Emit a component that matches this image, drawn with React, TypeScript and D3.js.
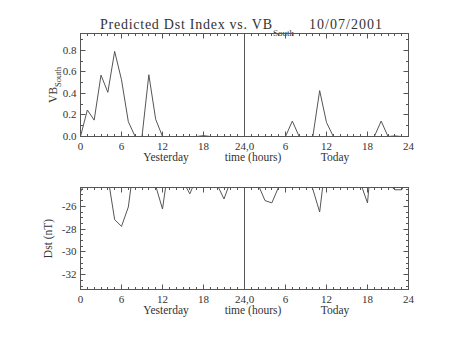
import React from "react";
import * as d3 from "d3";

const hours = [0,1,2,3,4,5,6,7,8,9,10,11,12,13,14,15,16,17,18,19,20,21,22,23,24,25,26,27,28,29,30,31,32,33,34,35,36,37,38,39,40,41,42,43,44,45,46,47,48];
const vbSouth = [0,0.246,0.152,0.57,0.41,0.79,0.526,0.137,0,0,0.573,0.16,0,0,0,0,0,0,0.008,0,0,0,0,0,0,0,0,0,0,0,0,0.143,0,0,0,0.426,0.13,0,0,0,0,0,0,0,0.143,0,0.005,0,0];
const dst = [-24.74,-23.5,-23.5,-23.5,-23.4,-27.17,-27.76,-26.06,-21.5,-23,-23,-24.2,-26.24,-22,-23,-23.8,-24.9,-23.5,-23.5,-23.5,-24.1,-25.36,-23.7,-23.5,-23.5,-23.5,-24.1,-25.5,-25.7,-24.3,-23.5,-23.5,-23.5,-23.5,-24.5,-26.5,-21.5,-23.5,-23.5,-23.5,-23.5,-24.0,-25.7,-19,-23.5,-24.0,-24.55,-24.55,-23.5];

const xMajor = [0,6,12,18,24,30,36,42,48];
const xLabels = ["0","6","12","18","24,0","6","12","18","24"];
const vbMajor = [0,0.2,0.4,0.6,0.8];
const vbLabels = ["0.0","0.2","0.4","0.6","0.8"];
const vbMinor = [0.1,0.3,0.5,0.7,0.9];
const dstMajor = [-26,-28,-30,-32];
const dstLabels = ["-26","-28","-30","-32"];
const dstMinor = [-24.5,-25,-25.5,-26.5,-27,-27.5,-28.5,-29,-29.5,-30.5,-31,-31.5,-32.5,-33];

const W = 454, H = 341;
const X0 = 80.5, X1 = 408.5;
const FONT = "'Liberation Serif', 'DejaVu Serif', serif";
const INK = "#333";
const LINE = "#555";

type PanelProps = {
  top: number; bottom: number; domain: [number, number];
  values: number[]; major: number[]; labels: string[]; minor: number[];
  ylabel: React.ReactNode; clipId: string;
};

function Panel({ top, bottom, domain, values, major, labels, minor, ylabel, clipId }: PanelProps) {
  const x = d3.scaleLinear().domain([0, 48]).range([X0, X1]);
  const y = d3.scaleLinear().domain(domain).range([bottom, top]);
  const line = d3.line<number>().x((_, i) => x(hours[i])).y(d => y(d));
  const MJ = 5, MN = 2.5;
  return (
    <g>
      <defs>
        <clipPath id={clipId}>
          <rect x={X0} y={top} width={X1 - X0} height={bottom - top} />
        </clipPath>
      </defs>
      <rect x={X0} y={top} width={X1 - X0} height={bottom - top} fill="none" stroke={LINE} strokeWidth={1} />
      {hours.map(h => {
        const isMajor = xMajor.includes(h);
        const len = isMajor ? MJ : MN;
        const px = Math.round(x(h) - 0.5) + 0.5;
        return (
          <g key={"xt" + h}>
            <line x1={px} x2={px} y1={bottom} y2={bottom - len} stroke={LINE} />
            <line x1={px} x2={px} y1={top} y2={top + len} stroke={LINE} />
          </g>
        );
      })}
      {major.concat(minor).map(v => {
        const len = major.includes(v) ? MJ : MN;
        const py = Math.round(y(v) - 0.5) + 0.5;
        return (
          <g key={"yt" + v}>
            <line x1={X0} x2={X0 + len} y1={py} y2={py} stroke={LINE} />
            <line x1={X1} x2={X1 - len} y1={py} y2={py} stroke={LINE} />
          </g>
        );
      })}
      <line x1={Math.round(x(24) - 0.5) + 0.5} x2={Math.round(x(24) - 0.5) + 0.5} y1={top} y2={bottom} stroke={LINE} />
      <path d={line(values) || ""} fill="none" stroke={LINE} strokeWidth={1} clipPath={`url(#${clipId})`} />
      {major.map((v, i) => (
        <text key={"yl" + v} x={X0 - 4} y={y(v) + 3.5} textAnchor="end" fontSize={11} fontFamily={FONT} fill={INK}>{labels[i]}</text>
      ))}
      {xMajor.map((h, i) => (
        <text key={"xl" + h} x={x(h)} y={bottom + 13} textAnchor="middle" fontSize={11} fontFamily={FONT} fill={INK}>{xLabels[i]}</text>
      ))}
      <text x={166} y={bottom + 24.5} textAnchor="middle" fontSize={11.5} fontFamily={FONT} fill={INK}>Yesterday</text>
      <text x={253} y={bottom + 24.5} textAnchor="middle" fontSize={11.5} fontFamily={FONT} fill={INK}>time (hours)</text>
      <text x={335} y={bottom + 24.5} textAnchor="middle" fontSize={11.5} fontFamily={FONT} fill={INK}>Today</text>
      {ylabel}
    </g>
  );
}

export default function App() {
  const midTop = (33.5 + 136.5) / 2;
  const midBot = (187.5 + 289.5) / 2;
  return (
    <svg width={W} height={H} style={{ position: "absolute", left: 0, top: 0, background: "#fff" }}>
      <rect width={W} height={H} fill="#fff" />
      <text x={100} y={29} fontSize={14} fontFamily={FONT} fill={INK} textLength={172} lengthAdjust="spacing">Predicted Dst Index vs. VB</text>
      <text x={273} y={35.5} fontSize={9} fontFamily={FONT} fill={INK}>South</text>
      <text x={309} y={29} fontSize={14} fontFamily={FONT} fill={INK} textLength={73} lengthAdjust="spacing">10/07/2001</text>
      <Panel top={33.5} bottom={136.5} domain={[0, 0.956]} values={vbSouth} major={vbMajor} labels={vbLabels} minor={vbMinor} clipId="c1"
        ylabel={
          <text transform={`translate(57,${midTop}) rotate(-90)`} textAnchor="middle" fontSize={11.5} fontFamily={FONT} fill={INK}>
            VB<tspan fontSize={8.5} dy={4}>South</tspan>
          </text>
        } />
      <Panel top={187.5} bottom={289.5} domain={[-33.3, -24.35]} values={dst} major={dstMajor} labels={dstLabels} minor={dstMinor} clipId="c2"
        ylabel={
          <text transform={`translate(52,${midBot}) rotate(-90)`} textAnchor="middle" fontSize={11.5} fontFamily={FONT} fill={INK}>Dst (nT)</text>
        } />
    </svg>
  );
}
